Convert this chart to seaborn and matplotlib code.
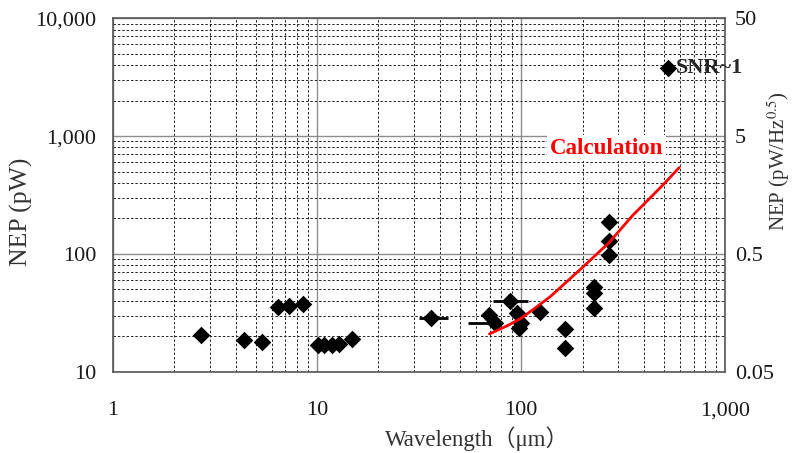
import numpy as np
import pandas as pd
import matplotlib
matplotlib.use("Agg")
import matplotlib.pyplot as plt
import matplotlib.ticker as mticker
import seaborn as sns

# measured points
wavelength = [2.7, 4.4, 5.4, 6.4, 7.3, 8.5, 10.1, 10.8, 11.8, 12.8, 14.8,
              36.1, 69.9, 74.6, 88.3, 95.9, 97.8, 99.6, 124, 164, 164,
              228, 228, 228, 270, 270, 270]
nep = [20.6, 18.7, 17.9, 35.6, 36.2, 37.7, 16.8, 16.9, 16.9, 17.4, 18.9,
       28.5, 30.4, 25.9, 40.2, 31.9, 23.5, 25.9, 32.5, 23.0, 15.9,
       52.9, 47.0, 34.7, 188, 129, 98]

# horizontal bars (wavelength ranges)
bar_y = [28.5, 25.9, 40.2]
bar_xmin = [31.6, 54.8, 72.6]
bar_xmax = [43.6, 76.0, 108.6]

# calculation curve
calc_x = [70, 85, 100, 115, 139, 167, 200, 270, 350, 450, 520, 595]
calc_y = [21.0, 24.5, 28.5, 34.0, 43.5, 58.0, 77, 125, 210, 325, 420, 540]

# SNR~1 marker
snr_x = [527]
snr_y = [3750]

x_ticks = [1, 10, 100, 1000]
x_labels = ["1", "10", "100", "1,000"]
y_ticks = [10, 100, 1000, 10000]
y_labels = ["10", "100", "1,000", "10,000"]
y2_ticks = [0.05, 0.5, 5, 50]
y2_labels = ["0.05", "0.5", "5", "50"]

sns.set_theme(style="white")
plt.rcParams["font.family"] = ["Liberation Serif", "Noto Sans CJK JP", "DejaVu Sans"]
plt.rcParams["mathtext.fontset"] = "stix"

fig, ax = plt.subplots(figsize=(7.96, 4.53), dpi=100)
fig.subplots_adjust(left=0.142, right=0.911, top=0.960, bottom=0.179)

ax.set_xscale("log")
ax.set_yscale("log")
ax.set_xlim(1, 1000)
ax.set_ylim(10, 10000)

ax.grid(True, which="major", color="#8c8c8c", linestyle="-", linewidth=1.0)
ax.grid(True, which="minor", color="#222222", linestyle=(0, (2.5, 2)), linewidth=0.7)
ax.set_axisbelow(True)

pts = pd.DataFrame({"wavelength": wavelength, "nep": nep})
sns.scatterplot(data=pts, x="wavelength", y="nep", marker="D", s=80,
                color="black", edgecolor="black", linewidth=0, ax=ax, zorder=4)

ax.hlines(bar_y, bar_xmin, bar_xmax, colors="black", linewidth=2, zorder=3)

calc = pd.DataFrame({"x": calc_x, "y": calc_y})
sns.lineplot(data=calc, x="x", y="y", color="red", linewidth=2, ax=ax, zorder=5)

snr = pd.DataFrame({"x": snr_x, "y": snr_y})
sns.scatterplot(data=snr, x="x", y="y", marker="D", s=80, color="black",
                linewidth=0, ax=ax, zorder=4, clip_on=False)
ax.text(575, 3750, "SNR~1", fontsize=16, fontweight="bold", va="center",
        ha="left", clip_on=False, zorder=6)
ax.text(262, 1000 * 10 ** (-12 / 118), "Calculation", color="red", fontsize=16.5,
        fontweight="bold", ha="center", va="center",
        bbox=dict(facecolor="white", edgecolor="none", pad=2), zorder=6)

ax.set_xticks(x_ticks)
ax.set_xticklabels(x_labels)
ax.set_yticks(y_ticks)
ax.set_yticklabels(y_labels)
ax.xaxis.set_minor_locator(mticker.LogLocator(base=10, subs=np.arange(2, 10)))
ax.yaxis.set_minor_locator(mticker.LogLocator(base=10, subs=np.arange(2, 10)))
ax.xaxis.set_minor_formatter(mticker.NullFormatter())
ax.yaxis.set_minor_formatter(mticker.NullFormatter())
ax.tick_params(axis="both", which="both", length=0, labelsize=16, colors="#1a1a1a")
ax.tick_params(axis="y", pad=12)
ax.tick_params(axis="x", pad=21)

ax.set_xlabel("Wavelength（μm）", fontsize=16.5, color="#333333")
ax.xaxis.set_label_coords(0.595, -0.155)
ax.set_ylabel("NEP (pW)", fontsize=18.5, color="#333333")
ax.yaxis.set_label_coords(-0.131, 0.452)

for s in ax.spines.values():
    s.set_visible(True)
    s.set_color("#555555")
    s.set_linewidth(1.2)

ax2 = ax.twinx()
ax2.set_yscale("log")
ax2.set_ylim(0.05, 50)
ax2.set_yticks(y2_ticks)
ax2.set_yticklabels(y2_labels)
ax2.yaxis.set_minor_locator(mticker.NullLocator())
ax2.tick_params(axis="y", length=0, labelsize=16, colors="#1a1a1a", pad=7)
ax2.set_ylabel("NEP (pW/Hz$^{0.5}$)", fontsize=15, color="#333333")
ax2.yaxis.set_label_coords(1.066, 0.596)
ax2.grid(False)
for s in ax2.spines.values():
    s.set_visible(False)

fig.savefig("out.png", dpi=100)
